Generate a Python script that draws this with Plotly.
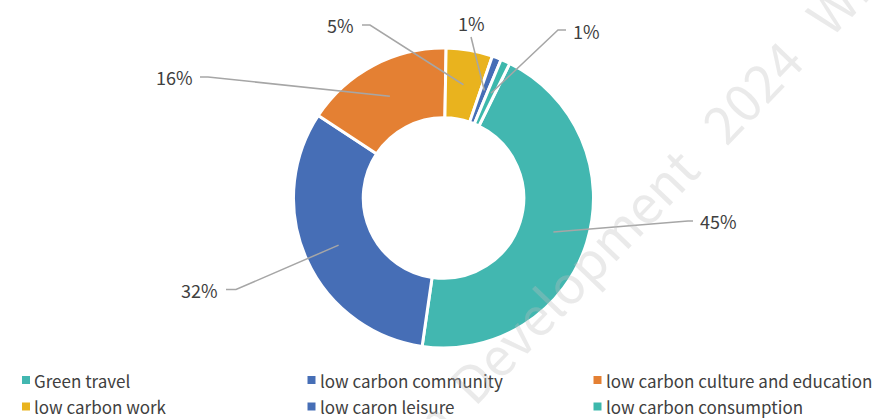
import math
import plotly.graph_objects as go

# Share of each low-carbon behaviour category (%)
categories = [
    "Green travel",
    "low carbon community",
    "low carbon culture and education",
    "low carbon work",
    "low caron leisure",
    "low carbon consumption",
]
shares = [45, 32, 16, 5, 1, 1]
share_labels = ["45%", "32%", "16%", "5%", "1%", "1%"]

colors = ["#42B7B0", "#466EB6", "#E48033", "#E9B31E", "#466EB6", "#3DB8AC"]

W, H = 875, 419
CX, CY, R_OUT = 443.5, 198.0, 150.0   # donut centre / outer radius (px)
HOLE = 0.535
ROTATION = 26.2                         # start angle of first slice, clockwise from 12 o'clock
LEADER_R = 115.0                        # radius where leader lines start

# label text centre, leader elbow and leader end (px), per slice
label_pos = [
    ((718, 221), (688, 221), (693, 221)),
    ((199, 290), (236, 289.5), (226, 289.5)),
    ((174, 77), (208, 77), (200, 77)),
    ((340, 25), (370, 25), (362, 25)),
    ((471, 23), (471, 37), (471, 37)),
    ((586, 31), (558, 30), (566, 30)),
]

# legend grid (px): column left edges, row centres, swatch size
LEG_COLS = [22, 307.5, 593.5]
LEG_ROWS = [380, 406.5]
SWATCH = 8
SWATCH_GAP = 3

FONT = "Noto Sans CJK SC"
TEXT_COLOR = "#404040"
LINE_COLOR = "#A6A6A6"


def px(x):
    return x / W


def py(y):
    return 1 - y / H


fig = go.Figure()
fig.add_trace(go.Pie(
    labels=categories,
    values=shares,
    sort=False,
    direction="clockwise",
    rotation=ROTATION,
    hole=HOLE,
    textinfo="none",
    marker=dict(colors=colors, line=dict(color="white", width=3)),
    domain=dict(x=[px(CX - R_OUT), px(CX + R_OUT)],
                y=[py(CY + R_OUT), py(CY - R_OUT)]),
    showlegend=False,
))

# leader lines and percentage labels, anchored at each slice's mid-angle
total = sum(shares)
start = ROTATION
shapes = []
annotations = []
for v, txt, (tpos, elbow, end) in zip(shares, share_labels, label_pos):
    mid = math.radians(start + 360 * v / total / 2)
    start += 360 * v / total
    ax = CX + LEADER_R * math.sin(mid)
    ay = CY - LEADER_R * math.cos(mid)
    shapes.append(dict(type="path", xref="paper", yref="paper",
                       path=f"M {px(ax)},{py(ay)} L {px(elbow[0])},{py(elbow[1])} L {px(end[0])},{py(end[1])}",
                       line=dict(color=LINE_COLOR, width=1.5)))
    annotations.append(dict(x=px(tpos[0]), y=py(tpos[1]), xref="paper", yref="paper",
                            text=txt, showarrow=False, xanchor="center", yanchor="middle",
                            font=dict(family=FONT, size=18, color=TEXT_COLOR)))

# legend: 3 columns x 2 rows, swatch + category name
for i, (name, col) in enumerate(zip(categories, colors)):
    x0 = LEG_COLS[i % 3]
    yc = LEG_ROWS[i // 3]
    shapes.append(dict(type="rect", xref="paper", yref="paper",
                       x0=px(x0), x1=px(x0 + SWATCH),
                       y0=py(yc + SWATCH / 2), y1=py(yc - SWATCH / 2),
                       fillcolor=col, line=dict(width=0)))
    annotations.append(dict(x=px(x0 + SWATCH + SWATCH_GAP), y=py(yc), xref="paper", yref="paper",
                            text=name, showarrow=False, xanchor="left", yanchor="middle",
                            borderpad=0,
                            font=dict(family=FONT, size=17, color=TEXT_COLOR)))

# watermark
annotations.append(dict(x=px(633), y=py(211), xref="paper", yref="paper",
                        text="on  Development   2024   Wh", showarrow=False,
                        textangle=-46, xanchor="center", yanchor="middle",
                        font=dict(family=FONT, size=52, color="rgba(190,190,190,0.33)")))

fig.update_layout(
    width=W, height=H,
    margin=dict(l=0, r=0, t=0, b=0, autoexpand=False),
    paper_bgcolor="white",
    plot_bgcolor="white",
    shapes=shapes,
    annotations=annotations,
    showlegend=False,
)

fig.write_html("out.html")
